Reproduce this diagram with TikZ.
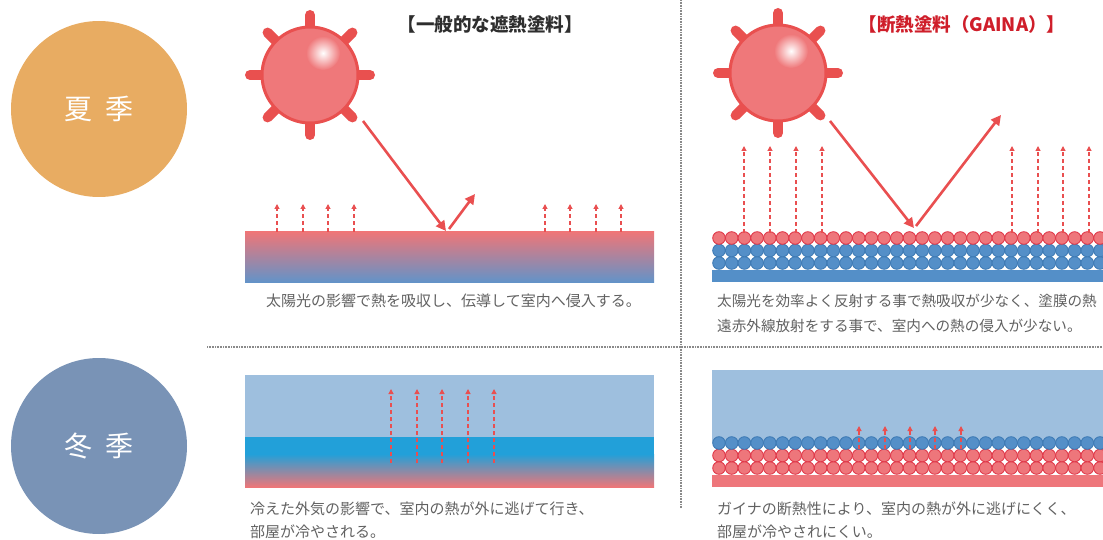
\documentclass[tikz,border=0pt]{standalone}
\usepackage{fontspec}
\newfontfamily\jp{Noto Sans CJK JP}
\usetikzlibrary{arrows.meta}

\definecolor{summerc}{HTML}{E8AC62}
\definecolor{winterc}{HTML}{7993B6}
\definecolor{sunfill}{HTML}{EF787A}
\definecolor{sunline}{HTML}{E9504F}
\definecolor{heatred}{HTML}{E94F50}
\definecolor{slabred}{HTML}{EE7678}
\definecolor{slabblue}{HTML}{6393C8}
\definecolor{skyblue}{HTML}{9EBFDE}
\definecolor{cyanc}{HTML}{22A0D9}
\definecolor{beadblue}{HTML}{548FC8}
\definecolor{beadblueline}{HTML}{3F7BB5}
\definecolor{beadred}{HTML}{EE767B}
\definecolor{beadredline}{HTML}{E0394A}
\definecolor{bodytext}{HTML}{616161}
\definecolor{titledark}{HTML}{2E2E2E}
\definecolor{titlered}{HTML}{CF1E2A}
\definecolor{divgray}{HTML}{8A8A8A}

\tikzset{
  season/.style={circle, minimum size=176pt, inner sep=0pt, text=white,
    font=\jp\fontsize{28}{28}\selectfont},
  divider/.style={draw=divgray, line width=1.1pt, dash pattern=on 1pt off 0.6pt},
  ray/.style={draw=sunline, line width=10pt, line cap=round},
  beam/.style={draw=heatred, line width=2.6pt, -{Triangle[width=10pt,length=10pt]}},
  heat/.style={draw=heatred, line width=1.1pt, dash pattern=on 4pt off 3pt,
    -{Triangle[width=5pt,length=5pt]}},
  redbead/.style={circle, minimum size=12.6pt, inner sep=0pt, fill=beadred,
    draw=beadredline, line width=0.9pt},
  bluebead/.style={circle, minimum size=12.6pt, inner sep=0pt, fill=beadblue,
    draw=beadblueline, line width=0.9pt},
  caption/.style={anchor=base west, inner sep=0pt, text=bodytext,
    font=\jp\fontsize{15}{15}\selectfont},
  narrowcaption/.style={caption, font=\jp\fontsize{14.6}{14.6}\selectfont},
  heading/.style={anchor=base, inner sep=0pt, font=\jp\bfseries\fontsize{18.5}{18.5}\selectfont},
  sun/.pic={
    \foreach \a in {0,45,...,315} \draw[ray] (\a:42) -- (\a:60);
    \draw[fill=sunfill, draw=sunline, line width=3pt] (0,0) circle[radius=48];
    \shade[inner color=white, outer color=sunfill] (13,-22) circle[radius=17];
  }
}

\begin{document}
\begin{tikzpicture}[x=1pt, y=-1pt]
\useasboundingbox (0,0) rectangle (1103,540);
\clip (0,0) rectangle (1103,540);

% season badges
\node[season, fill=summerc] (summer) at (99,109) {夏\hspace{0.45em}季};
\node[season, fill=winterc] (winter) at (99,446) {冬\hspace{0.45em}季};

% dividers
\coordinate (vtop) at (681,0);
\coordinate (vbot) at (681,508);
\coordinate (hleft) at (207,347);
\coordinate (hright) at (1103,347);
\draw[divider] (vtop) -- (vbot);
\draw[divider] (hleft) -- (hright);

% headings
\node[heading, text=titledark] (headL) at (490,31.5) {【一般的な遮熱塗料】};
\node[heading, text=titlered] (headR) at (962,31.5) {【断熱塗料（GAINA）】};

% ---------- summer, ordinary paint ----------
\shade[top color=slabred, bottom color=slabblue] (245,232) rectangle (654,282);
\foreach \x in {277,303,328,354,545,570,596,621}
  \draw[heat] (\x,232) -- (\x,204);
\pic at (310,75) {sun};
\coordinate (inL0) at (363,121);
\coordinate (inL1) at (446,231);
\coordinate (outL0) at (449,229);
\coordinate (outL1) at (475,194);
\draw[beam] (inL0) -- (inL1);
\draw[beam] (outL0) -- (outL1);
\node[caption] (capL1) at (266,306) {太陽光の影響で熱を吸収し、伝導して室内へ侵入する。};

% ---------- summer, GAINA ----------
\fill[beadblue] (712,269.5) rectangle (1103,282);
\foreach \i in {0,...,30} {
  \node[bluebead] (sb2\i) at ({719+12.7*\i},263) {};
  \node[bluebead] (sb1\i) at ({719+12.7*\i},250.5) {};
  \node[redbead]  (sr\i)  at ({719+12.7*\i},238) {};
}
\foreach \x in {744,770,796,822,1012,1038,1063,1089}
  \draw[heat] (\x,233) -- (\x,146);
\pic at (778,73) {sun};
\coordinate (inR0) at (830,121);
\coordinate (inR1) at (914,228);
\coordinate (outR0) at (916,226);
\coordinate (outR1) at (1001,115);
\draw[beam] (inR0) -- (inR1);
\draw[beam] (outR0) -- (outR1);
\node[narrowcaption] (capR1) at (717,306) {太陽光を効率よく反射する事で熱吸収が少なく、塗膜の熱};
\node[narrowcaption] (capR2) at (717,331) {遠赤外線放射をする事で、室内への熱の侵入が少ない。};

% ---------- winter, ordinary paint ----------
\fill[skyblue] (245,375) rectangle (654,437);
\fill[cyanc] (245,437) rectangle (654,454);
\shade[top color=cyanc, bottom color=slabred] (245,454) rectangle (654,487);
\foreach \x in {391,417,442,468,494}
  \draw[heat] (\x,463) -- (\x,389);
\node[caption] (capL2) at (250,514) {冷えた外気の影響で、室内の熱が外に逃げて行き、};
\node[caption] (capL3) at (250,537.5) {部屋が冷やされる。};

% ---------- winter, GAINA ----------
\fill[skyblue] (712,370) rectangle (1103,443);
\fill[beadred] (712,474.5) rectangle (1103,487);
\foreach \i in {0,...,30} {
  \node[redbead]  (wr2\i) at ({719+12.7*\i},468) {};
  \node[redbead]  (wr1\i) at ({719+12.7*\i},455.5) {};
  \node[bluebead] (wb\i)  at ({719+12.7*\i},443) {};
}
\foreach \x in {859,885,910,935,961}
  \draw[heat] (\x,449) -- (\x,426);
\node[caption] (capR3) at (717,514) {ガイナの断熱性により、室内の熱が外に逃げにくく、};
\node[caption] (capR4) at (717,537.5) {部屋が冷やされにくい。};
\end{tikzpicture}
\end{document}
